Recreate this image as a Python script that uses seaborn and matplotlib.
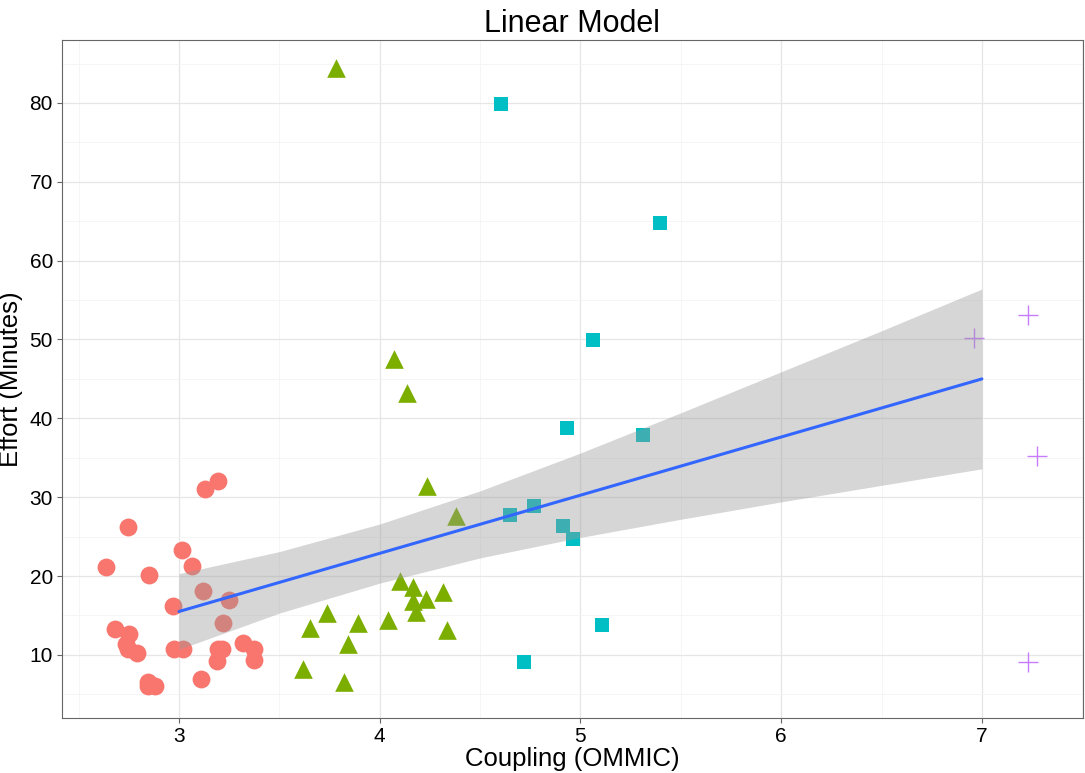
import numpy as np
import pandas as pd
import seaborn as sns
import matplotlib.pyplot as plt
from matplotlib.ticker import MultipleLocator

# points per cluster
red_x = [3.193, 3.131, 2.748, 3.016, 2.638, 3.066, 2.849, 3.118, 3.249, 2.969,
         3.221, 2.683, 2.751, 2.735, 2.744, 2.792, 2.975, 3.020, 3.193, 3.216,
         3.320, 3.374, 3.191, 3.375, 3.111, 2.846, 2.847, 2.882]
red_y = [32.0, 31.0, 26.2, 23.3, 21.2, 21.3, 20.1, 18.1, 17.0, 16.2,
         14.1, 13.3, 12.7, 11.4, 10.7, 10.3, 10.8, 10.8, 10.8, 10.8,
         11.5, 10.8, 9.2, 9.3, 7.0, 6.6, 6.0, 6.0]

green_x = [3.782, 4.073, 4.134, 4.237, 4.380, 4.101, 4.167, 4.317, 4.164, 4.230,
           4.179, 3.739, 3.653, 3.892, 4.043, 4.337, 3.840, 3.618, 3.823]
green_y = [84.4, 47.5, 43.2, 31.4, 27.6, 19.4, 18.6, 18.0, 16.8, 17.1,
           15.4, 15.3, 13.4, 14.1, 14.4, 13.2, 11.4, 8.2, 6.5]

cyan_x = [4.604, 5.396, 5.062, 4.933, 5.311, 4.649, 4.768, 4.913, 4.963, 5.107, 4.718]
cyan_y = [79.9, 64.8, 49.9, 38.8, 37.9, 27.8, 28.9, 26.3, 24.7, 13.8, 9.15]

purple_x = [7.231, 6.961, 7.273, 7.229]
purple_y = [53.05, 50.2, 35.2, 9.1]

# fitted line and confidence band
fit_x = [3.0, 3.5, 4.0, 4.5, 5.0, 5.5, 6.0, 6.5, 7.0]
fit_y = [15.5, 19.19, 22.88, 26.56, 30.25, 33.94, 37.63, 41.31, 45.0]
fit_lo = [10.7, 15.3, 19.1, 22.3, 24.9, 27.2, 29.4, 31.5, 33.6]
fit_hi = [20.3, 23.1, 26.6, 30.8, 35.6, 40.7, 45.9, 51.1, 56.4]

groups = [
    ('A', red_x, red_y, 'o', '#F8766D', 165),
    ('B', green_x, green_y, '^', '#7CAE00', 180),
    ('C', cyan_x, cyan_y, 's', '#00BFC4', 115),
    ('D', purple_x, purple_y, '+', '#C77CFF', 220),
]

sns.set_theme(style='white')
plt.rcParams['font.family'] = ['Liberation Sans', 'DejaVu Sans']

fig, ax = plt.subplots(figsize=(10.85, 7.73), dpi=100)
fig.subplots_adjust(left=0.0571, right=0.998, top=0.948, bottom=0.0712)

for name, xs, ys, marker, color, size in groups:
    df = pd.DataFrame({'Coupling': xs, 'Effort': ys})
    if marker == '+':
        sns.scatterplot(data=df, x='Coupling', y='Effort', marker=marker, color=color,
                        s=size, linewidth=1.0, ax=ax, zorder=2)
    else:
        sns.scatterplot(data=df, x='Coupling', y='Effort', marker=marker, color=color,
                        s=size, linewidth=0, ax=ax, zorder=2)

ax.fill_between(fit_x, fit_lo, fit_hi, color='#999999', alpha=0.4, linewidth=0, zorder=3)
sns.lineplot(x=fit_x, y=fit_y, color='#3366FF', linewidth=2.2, ax=ax, zorder=4)

ax.set_xlim(2.417, 7.503)
ax.set_ylim(2.0, 87.96)
ax.xaxis.set_major_locator(MultipleLocator(1))
ax.xaxis.set_minor_locator(MultipleLocator(0.5))
ax.yaxis.set_major_locator(MultipleLocator(10))
ax.yaxis.set_minor_locator(MultipleLocator(5))
ax.set_yticks(np.arange(10, 90, 10))

ax.grid(which='major', color='#e6e6e6', linewidth=0.9, zorder=0)
ax.grid(which='minor', color='#f4f4f4', linewidth=0.6, zorder=0)
ax.set_axisbelow(True)

for s in ax.spines.values():
    s.set_color('#666666')
    s.set_linewidth(0.8)

ax.tick_params(which='major', length=3.5, width=0.8, color='#666666',
               labelsize=15, labelcolor='black', bottom=True, left=True, pad=3)
ax.tick_params(which='minor', length=0)

ax.set_title('Linear Model', fontsize=22, pad=6, color='black')
ax.set_xlabel('Coupling (OMMIC)', fontsize=18.5, labelpad=1, color='black')
ax.set_ylabel('Effort (Minutes)', fontsize=18.5, labelpad=5, color='black')

fig.savefig('out.png', dpi=100)
